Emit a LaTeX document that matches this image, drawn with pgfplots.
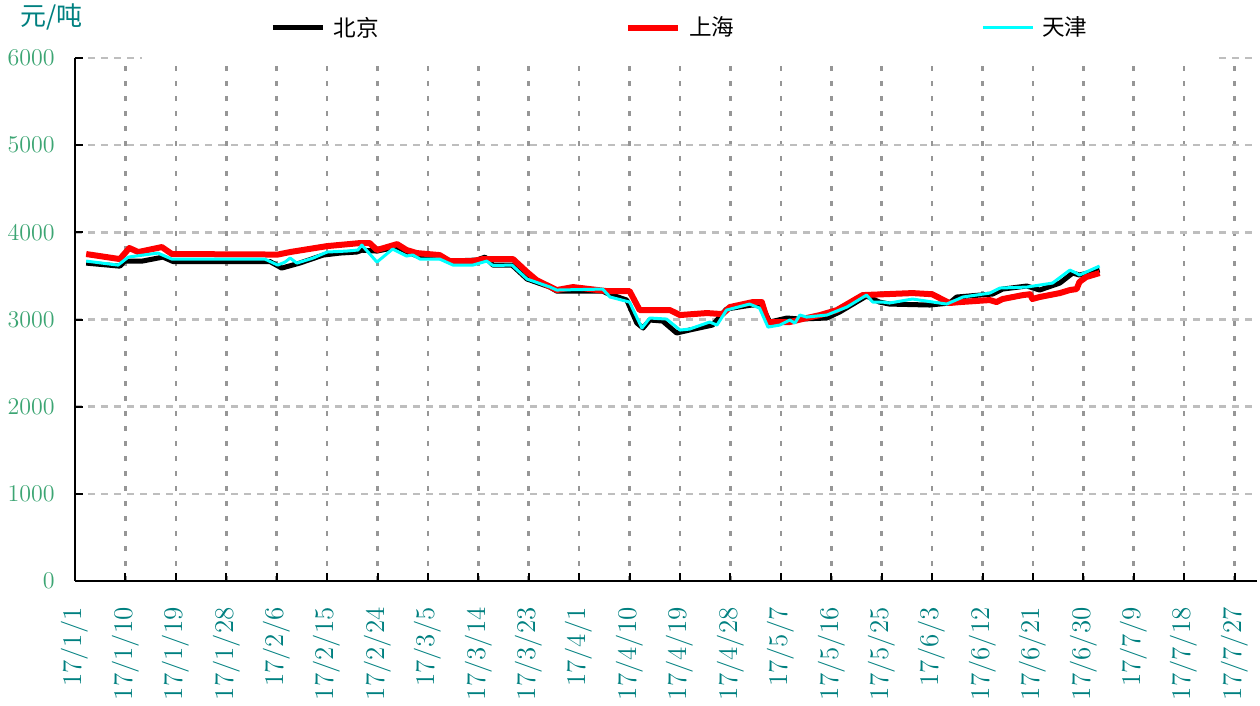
\documentclass[border=0pt]{standalone}
\usepackage{fontspec}
\usepackage{pgfplots}
\pgfplotsset{compat=1.18}
\newfontfamily\cjk{Noto Sans CJK SC}
\definecolor{tealc}{RGB}{0,128,128}
\definecolor{greenc}{RGB}{60,165,115}
\definecolor{vgrid}{RGB}{150,150,150}
\definecolor{hgrid}{RGB}{190,190,190}
\definecolor{aqua}{RGB}{0,255,255}
\begin{document}
\begin{tikzpicture}
\begin{axis}[
  at={(0pt,0pt)}, anchor=south west,
  scale only axis, width=591pt, height=261.5pt,
  xmin=0, xmax=211, ymin=0, ymax=6000,
  clip mode=individual,
  axis x line*=bottom, axis y line*=left,
  axis line style={line width=1.3pt, -},
  tick align=inside, major tick length=4pt,
  tick style={black, line width=1pt},
  xtick={0,9,...,207},
  xticklabels={17/1/1,17/1/10,17/1/19,17/1/28,17/2/6,17/2/15,17/2/24,17/3/5,17/3/14,17/3/23,17/4/1,17/4/10,17/4/19,17/4/28,17/5/7,17/5/16,17/5/25,17/6/3,17/6/12,17/6/21,17/6/30,17/7/9,17/7/18,17/7/27},
  xticklabel style={rotate=90, anchor=east, inner sep=0pt, text=tealc, font=\fontsize{13.5}{15}\selectfont},
  xticklabel shift=13pt,
  ytick={0,1000,...,6000},
  yticklabel style={inner sep=0pt, text=greenc, font=\fontsize{12.2}{14}\selectfont, /pgf/number format/1000 sep={}},
  yticklabel shift=10pt,
  scaled y ticks=false,
  xmajorgrids, ymajorgrids,
  major x grid style={vgrid, line width=1.3pt, dash pattern=on 2.5pt off 5pt},
  major y grid style={hgrid, line width=1.3pt, dash pattern=on 3.5pt off 3pt},
  legend columns=3,
  legend image code/.code={\draw[#1] (0pt,0pt) -- (25pt,0pt);},
  legend style={draw=none, fill=white, inner xsep=64pt, inner ysep=10pt,
    at={(rel axis cs:0.5110,1.0574)}, anchor=center,
    font=\cjk\fontsize{11.3}{13}\selectfont,
    nodes={inner sep=0pt},
    /tikz/every odd column/.append style={column sep=4pt},
    /tikz/every even column/.append style={column sep=123.4pt}},
  legend cell align=left,
]
\addplot[black, line width=2.5pt, line join=round] coordinates {
(2,3647)(8,3612)(8.9,3670)(12,3670)(15.7,3716)(17.5,3665)(34.8,3665)(36.9,3590)(40.1,3647)(44.3,3739)(47.3,3762)(50.3,3774)(51.2,3795)(53.9,3785)(57.5,3831)(59.8,3762)(61.6,3716)(65.1,3716)(66.9,3670)(71.7,3682)(73.2,3716)(74.6,3624)(78,3624)(80.7,3464)(84.8,3372)(86,3326)(94.2,3326)(94.9,3303)(98.5,3223)(100.3,2959)(101.4,2902)(102.6,2994)(104.9,2982)(107.4,2845)(109.7,2879)(113.8,2936)(116.3,3120)(120.8,3166)(122.6,3166)(124,2971)(127.1,3017)(129.4,3005)(134.2,3017)(136.5,3086)(141.3,3269)(143.6,3200)(145.4,3177)(152.6,3166)(156.1,3189)(157.4,3258)(161.5,3280)(163.8,3292)(165.6,3349)(169.9,3384)(172.2,3338)(175.8,3418)(178.1,3533)(179.3,3510)(182.9,3567)
};
\addlegendentry{北京}
\addplot[red, line width=3pt, line join=round] coordinates {
(2,3751)(8,3693)(9.7,3820)(11.3,3774)(15.5,3831)(17.3,3751)(36.2,3745)(38.4,3774)(45,3842)(50.9,3877)(52.6,3877)(53.9,3797)(57.5,3865)(59.2,3797)(61,3762)(65.1,3739)(66.9,3670)(71,3670)(72.8,3693)(78.2,3693)(80.7,3544)(82.4,3452)(86,3338)(88.9,3372)(94.9,3326)(99,3326)(100.8,3108)(106.2,3108)(108,3051)(112.8,3074)(115.6,3062)(116.9,3143)(121,3200)(122.6,3200)(123.7,2971)(127.6,2971)(130.6,3017)(133,3051)(136,3108)(140.6,3280)(149.5,3303)(153,3290)(156.1,3189)(158,3200)(163.3,3223)(164.5,3200)(165.6,3235)(169.2,3280)(170.5,3290)(170.9,3235)(172.2,3258)(175.8,3303)(177.6,3338)(178.8,3349)(179.3,3430)(180.5,3487)(182.9,3533)
};
\addlegendentry{上海}
\addplot[aqua, line width=1.5pt, line join=round] coordinates {
(2,3670)(7.7,3624)(9.5,3716)(14.8,3762)(17.3,3693)(33.9,3693)(36.2,3624)(37.5,3659)(38.4,3705)(39.6,3647)(42.5,3705)(45,3774)(48.5,3785)(50.5,3797)(51.2,3854)(53.9,3659)(56.7,3808)(59.2,3728)(60.3,3740)(61.6,3693)(65.1,3693)(67.5,3624)(71,3624)(73.5,3670)(74.6,3620)(78,3624)(80.7,3464)(84.8,3372)(86,3338)(94.2,3349)(95.5,3258)(99,3200)(101.2,2902)(102.6,3017)(105.6,3005)(108,2879)(109.7,2890)(113.3,2971)(114.6,2936)(116.3,3108)(120.4,3177)(122.2,3131)(123.7,2913)(125.8,2936)(127.6,2994)(128.5,2959)(129.4,3051)(130.6,3028)(134.2,3051)(137.8,3143)(141.3,3280)(142.4,3200)(144.2,3200)(145.4,3189)(149.5,3235)(155.6,3177)(158.5,3258)(163.3,3303)(165.1,3361)(169.9,3372)(174.5,3418)(177.6,3567)(178.8,3530)(179.3,3510)(182.9,3613)
};
\addlegendentry{天津}
\node[text=tealc, font=\cjk\fontsize{13}{15}\selectfont, inner sep=0pt] at (rel axis cs:-0.0200,1.0784) {元/吨};
\end{axis}
\pgfresetboundingbox
\path (-37.5pt,-62.5pt) rectangle (592.5pt,290.5pt);
\end{tikzpicture}
\end{document}
